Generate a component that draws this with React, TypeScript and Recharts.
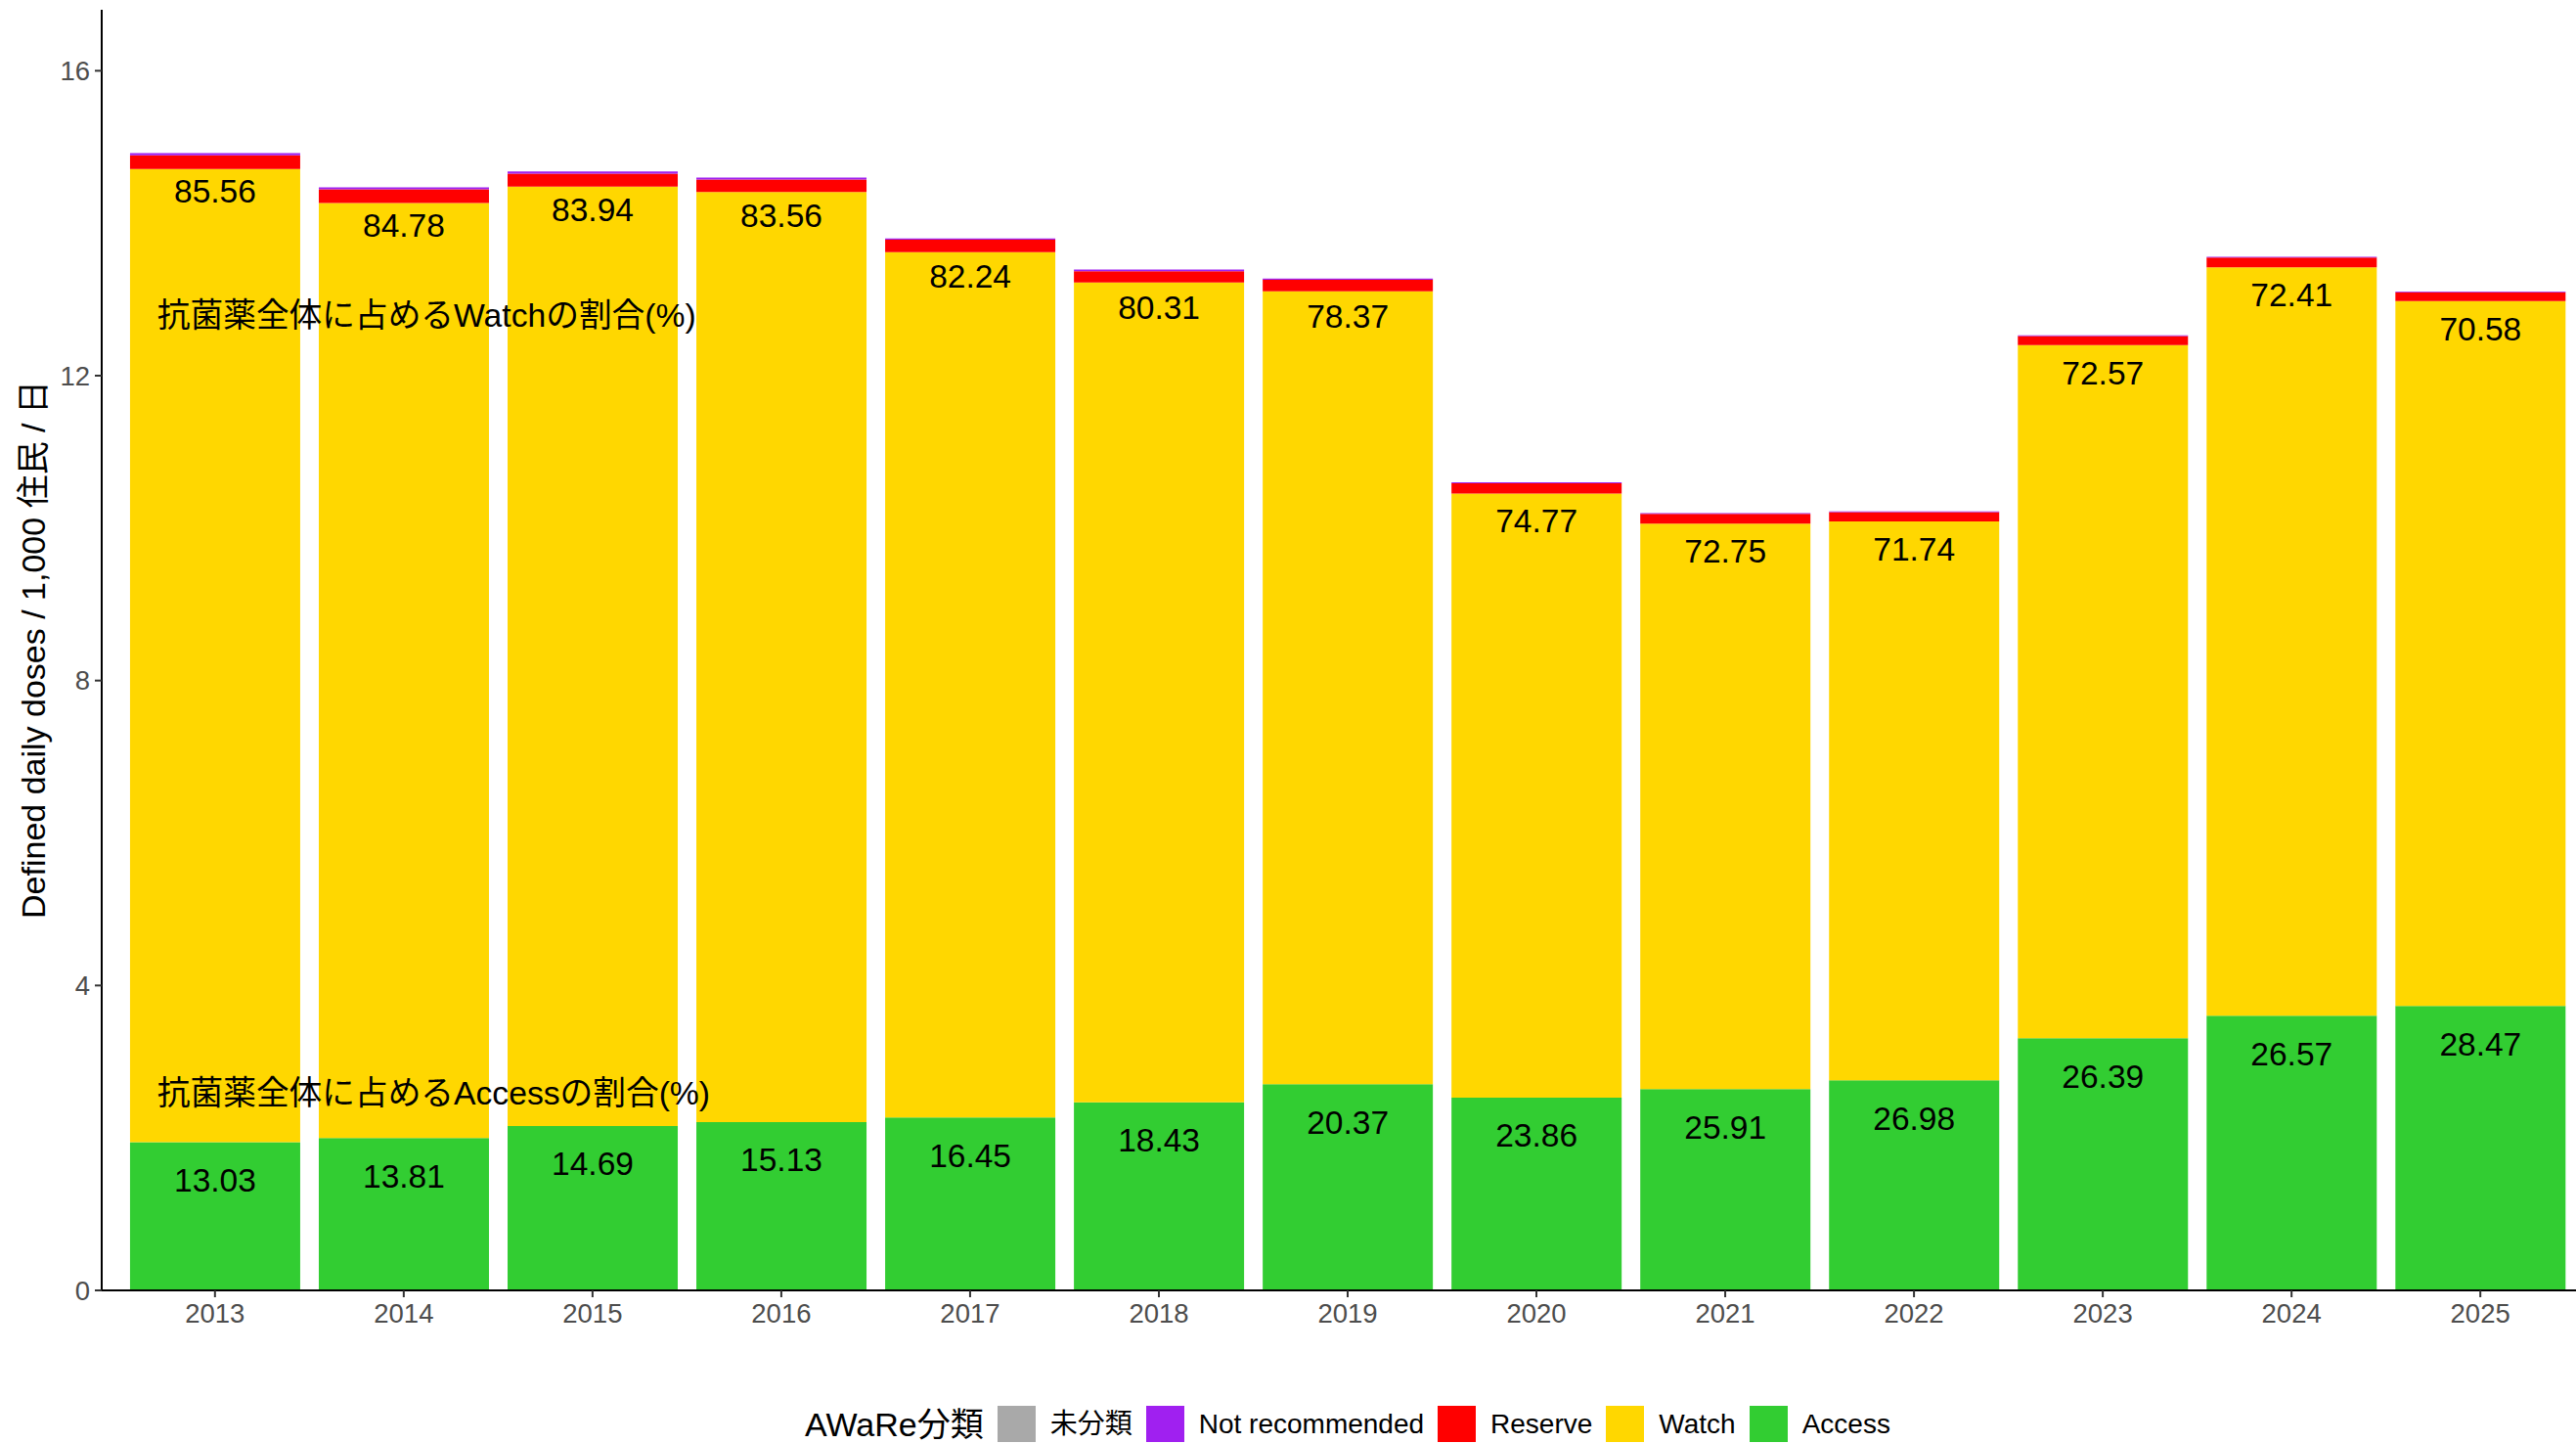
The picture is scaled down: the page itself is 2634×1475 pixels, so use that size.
import React from "react";
import {
  BarChart,
  Bar,
  XAxis,
  YAxis,
  Legend,
  LabelList,
  ReferenceDot,
} from "recharts";

const YEARS = ["2013", "2014", "2015", "2016", "2017", "2018", "2019", "2020", "2021", "2022", "2023", "2024", "2025"];

// DDD / 1,000 inhabitants / day, per AWaRe class
const ACCESS = [1.944, 1.998, 2.157, 2.209, 2.27, 2.468, 2.704, 2.529, 2.642, 2.757, 3.307, 3.603, 3.731];
const WATCH = [12.766, 12.268, 12.322, 12.2, 11.349, 10.753, 10.404, 7.926, 7.418, 7.332, 9.093, 9.819, 9.249];
const RESERVE = [0.18, 0.18, 0.17, 0.165, 0.165, 0.15, 0.15, 0.133, 0.126, 0.12, 0.12, 0.128, 0.115];
const NOT_RECOMMENDED = [0.03, 0.025, 0.03, 0.025, 0.015, 0.02, 0.015, 0.012, 0.01, 0.01, 0.01, 0.01, 0.01];
const UNCLASSIFIED = [0, 0, 0, 0, 0, 0, 0, 0, 0, 0, 0, 0, 0];

// share of all antibiotics (%)
const ACCESS_PCT = [13.03, 13.81, 14.69, 15.13, 16.45, 18.43, 20.37, 23.86, 25.91, 26.98, 26.39, 26.57, 28.47];
const WATCH_PCT = [85.56, 84.78, 83.94, 83.56, 82.24, 80.31, 78.37, 74.77, 72.75, 71.74, 72.57, 72.41, 70.58];

const Y_TICKS = [0, 4, 8, 12, 16];

const COLORS = {
  unclassified: "#A9A9A9",
  notRecommended: "#A020F0",
  reserve: "#FF0000",
  watch: "#FFD700",
  access: "#32CD32",
};

const LEGEND_ITEMS = [
  { label: "未分類", color: COLORS.unclassified },
  { label: "Not recommended", color: COLORS.notRecommended },
  { label: "Reserve", color: COLORS.reserve },
  { label: "Watch", color: COLORS.watch },
  { label: "Access", color: COLORS.access },
];

const FONT = "'Liberation Sans', Arial, 'Noto Sans CJK JP', sans-serif";

const data = YEARS.map((year, i) => ({
  year,
  access: ACCESS[i],
  watch: WATCH[i],
  reserve: RESERVE[i],
  notRecommended: NOT_RECOMMENDED[i],
  unclassified: UNCLASSIFIED[i],
}));

const valueStyle = { fill: "#000", fontSize: 33.5, fontFamily: FONT } as const;

function AccessLabel(p: any) {
  const x = Number(p.x), y = Number(p.y), w = Number(p.width), h = Number(p.height);
  const i = p.index;
  const ppu = h / ACCESS[i];
  return (
    <text x={x + w / 2} y={y + 0.5 * ppu} textAnchor="middle" dominantBaseline="central" style={valueStyle}>
      {ACCESS_PCT[i].toFixed(2)}
    </text>
  );
}

function WatchLabel(p: any) {
  const x = Number(p.x), y = Number(p.y), w = Number(p.width), h = Number(p.height);
  const i = p.index;
  const ppu = h / WATCH[i];
  const top = y - (RESERVE[i] + NOT_RECOMMENDED[i] + UNCLASSIFIED[i]) * ppu;
  return (
    <text x={x + w / 2} y={top + 0.5 * ppu} textAnchor="middle" dominantBaseline="central" style={valueStyle}>
      {WATCH_PCT[i].toFixed(2)}
    </text>
  );
}

function noteLabel(text: string) {
  return (p: any) => {
    const vb = p.viewBox || {};
    return (
      <text
        x={Number(vb.x) - 59}
        y={Number(vb.y)}
        dominantBaseline="central"
        style={{ fill: "#000", fontSize: 33.7, fontFamily: FONT }}
      >
        {text}
      </text>
    );
  };
}

function YTitle() {
  return (
    <text
      x={34}
      y={664}
      transform="rotate(-90 34 664)"
      textAnchor="middle"
      dominantBaseline="central"
      style={{ fill: "#000", fontSize: 34, fontFamily: FONT }}
    >
      Defined daily doses / 1,000 住民 / 日
    </text>
  );
}

function LegendContent() {
  return (
    <div
      style={{
        display: "flex",
        justifyContent: "center",
        alignItems: "center",
        height: 39,
        fontFamily: FONT,
        color: "#000",
        whiteSpace: "nowrap",
        lineHeight: 1,
      }}
    >
      <span style={{ fontSize: 34, marginRight: 14 }}>AWaRe分類</span>
      {LEGEND_ITEMS.map((it, i) => (
        <span
          key={it.label}
          style={{ display: "flex", alignItems: "center", marginRight: i === LEGEND_ITEMS.length - 1 ? 0 : 14 }}
        >
          <span style={{ width: 39, height: 37, background: it.color, display: "inline-block" }} />
          <span style={{ fontSize: 28, marginLeft: 15 }}>{it.label}</span>
        </span>
      ))}
    </div>
  );
}

export default function App() {
  return (
    <div
      style={{
        position: "absolute",
        left: 0,
        top: 0,
        width: 2634,
        height: 1475,
        overflow: "hidden",
        background: "#fff",
        fontFamily: FONT,
      }}
    >
      <BarChart
        width={2652}
        height={1475}
        data={data}
        margin={{ top: 10, right: 0, bottom: 0, left: 0 }}
        barCategoryGap="5%"
        barGap={0}
      >
        <XAxis
          dataKey="year"
          padding={{ left: 19.3, right: 19.3 }}
          height={117}
          tick={{ fill: "#4D4D4D", fontSize: 27.5, fontFamily: FONT }}
          tickSize={7}
          tickMargin={6}
          axisLine={{ stroke: "#000", strokeWidth: 2 }}
          tickLine={{ stroke: "#333", strokeWidth: 2 }}
          interval={0}
        />
        <YAxis
          width={104}
          domain={[0, 16.8]}
          ticks={Y_TICKS}
          tick={{ fill: "#4D4D4D", fontSize: 27.5, fontFamily: FONT }}
          tickSize={7}
          tickMargin={5}
          axisLine={{ stroke: "#000", strokeWidth: 2 }}
          tickLine={{ stroke: "#333", strokeWidth: 2 }}
          label={YTitle}
        />
        <Legend
          verticalAlign="bottom"
          content={LegendContent}
          wrapperStyle={{ left: 104, width: 2548, bottom: 0 }}
        />
        <Bar dataKey="access" name="Access" stackId="a" fill={COLORS.access} isAnimationActive={false}>
          <LabelList dataKey="access" content={AccessLabel} />
        </Bar>
        <Bar dataKey="watch" name="Watch" stackId="a" fill={COLORS.watch} isAnimationActive={false}>
          <LabelList dataKey="watch" content={WatchLabel} />
        </Bar>
        <Bar dataKey="reserve" name="Reserve" stackId="a" fill={COLORS.reserve} isAnimationActive={false} />
        <Bar dataKey="notRecommended" name="Not recommended" stackId="a" fill={COLORS.notRecommended} isAnimationActive={false} />
        <Bar dataKey="unclassified" name="未分類" stackId="a" fill={COLORS.unclassified} isAnimationActive={false} />
        <ReferenceDot
          x="2013"
          y={12.8}
          r={0}
          fill="none"
          stroke="none"
          label={noteLabel("抗菌薬全体に占めるWatchの割合(%)")}
        />
        <ReferenceDot
          x="2013"
          y={2.59}
          r={0}
          fill="none"
          stroke="none"
          label={noteLabel("抗菌薬全体に占めるAccessの割合(%)")}
        />
      </BarChart>
    </div>
  );
}
